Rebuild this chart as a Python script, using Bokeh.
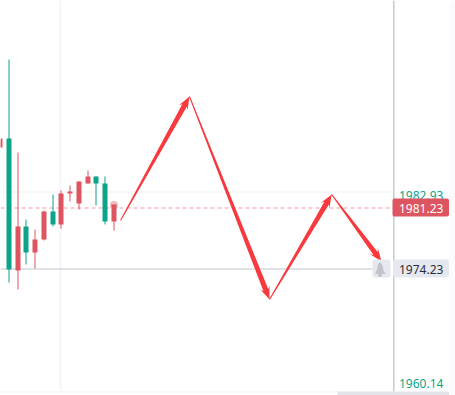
from bokeh.plotting import figure
from bokeh.embed import file_html
from bokeh.resources import INLINE
from bokeh.models import BoxAnnotation, Label
import numpy as np

# candles, in bar index / price
bar_index = [-1, 0, 1, 2, 3, 4, 5, 6, 7, 8, 9, 10, 11, 12]
high = [1988.9, 1998.23, 1987.55, 1979.86, 1978.71, 1980.89, 1982.73, 1983.19, 1983.76, 1984.22, 1985.48, 1984.79, 1984.79, 1981.58]
low = [1988.12, 1972.54, 1971.74, 1974.61, 1974.15, 1977.44, 1979.05, 1978.82, 1981.92, 1981.0, 1983.99, 1981.46, 1979.28, 1978.59]
body_top = [1989.16, 1989.16, 1979.05, 1979.05, 1977.56, 1980.77, 1980.77, 1982.84, 1983.07, 1984.22, 1984.79, 1984.79, 1983.99, 1981.58]
body_bottom = [1988.12, 1974.03, 1974.0, 1975.99, 1975.99, 1977.56, 1979.28, 1979.28, 1982.84, 1981.69, 1983.99, 1983.99, 1979.63, 1979.63]
is_up = [1, 0, 1, 0, 1, 1, 0, 1, 1, 1, 1, 0, 0, 1]

# zigzag drawing
zig_index = [12.77, 20.65, 29.8, 36.9, 42.6]
zig_price = [1979.8, 1994.04, 1970.73, 1982.79, 1975.09]

# price levels
grid_prices = [1983.05, 1960.14]
tick_labels = ["1982.93", "1960.14"]
last_price = 1981.23
last_label = "1981.23"
alert_price = 1974.23
alert_label = "1974.23"

UP, DOWN = "#dc5560", "#0ba488"
W, H = 455, 395
x0, x1 = -0.949, 51.05
y0, y1 = 1959.707, 2005.057
sx = W / (x1 - x0)
sy = H / (y1 - y0)
FONT = "Noto Sans"

p = figure(width=W, height=H, x_range=(x0, x1), y_range=(y0, y1), output_backend="svg",
           toolbar_location=None, min_border=0, outline_line_color=None, background_fill_color="white",
           border_fill_color="white")
p.axis.visible = False
p.grid.visible = False


def X(px):
    return x0 + px / sx


def Y(py):
    return y1 - py / sy


def snap_y(price, off=0.0):
    return Y(np.floor((y1 - price) * sy) + off)


def snap_x(i, off=0.5):
    return X(np.floor((i - x0) * sx) + off)


# grid
p.line([X(60), X(60)], [Y(390), y1], line_color="#f6f6f6", line_width=2)
for gp in grid_prices:
    p.line([x0, X(393)], [snap_y(gp, 0.5)] * 2, line_color="#f1f1f3", line_width=1)

# level lines
p.line([x0, X(393)], [last_price] * 2, line_color="#f7bcc2", line_width=1.4, line_dash="4 3")
p.line([x0, X(372)], [alert_price] * 2, line_color="#c4c3d2", line_width=1.2)

# candles
colors = [UP if u else DOWN for u in is_up]
wx = [snap_x(i) for i in bar_index]
p.segment(wx, [snap_y(v + 0.05) for v in high], wx, [snap_y(v + 0.05) for v in low], line_color=colors, line_width=1)
p.vbar(x=wx, top=[snap_y(v + 0.05) for v in body_top], bottom=[snap_y(v + 0.05) for v in body_bottom],
       width=5 / sx, fill_color=colors, line_color=None)
p.scatter([wx[-1]], [body_top[-1]], size=8, fill_color=UP, fill_alpha=0.4, line_color=None)


# tapered arrows
def arrow(a, b):
    pa = np.array([(a[0] - x0) * sx, (y1 - a[1]) * sy])
    pb = np.array([(b[0] - x0) * sx, (y1 - b[1]) * sy])
    d = pb - pa
    d = d / np.hypot(*d)
    n = np.array([-d[1], d[0]])
    neck = pb - d * 10
    barb = pb - d * 13
    pts = [pa + n * 0.5, neck + n * 2.6, barb + n * 5, pb, barb - n * 5, neck - n * 2.6, pa - n * 0.5]
    return [x0 + q[0] / sx for q in pts], [y1 - q[1] / sy for q in pts]


xs, ys = [], []
for i in range(len(zig_index) - 1):
    ax, ay = arrow((zig_index[i], zig_price[i]), (zig_index[i + 1], zig_price[i + 1]))
    xs.append(ax)
    ys.append(ay)
p.patches(xs, ys, fill_color="#f83a3f", line_color=None)

# right scale
p.line([X(393.3), X(393.3)], [Y(391), y1], line_color="#c9c8d6", line_width=1.5)
p.add_layout(BoxAnnotation(left=X(448.5), right=x1, bottom=y0, top=y1, fill_color="#fbfbfd", fill_alpha=1, line_color=None))
p.add_layout(BoxAnnotation(left=X(337), right=X(448.5), bottom=y0, top=Y(391), fill_color="#e1e5ea", fill_alpha=1, line_color=None))


def txt(s, px, py, color):
    p.add_layout(Label(x=X(px), y=Y(py), text=s, text_color=color, text_font=FONT, text_font_size="12px",
                       text_align="left", text_baseline="middle"))


txt(tick_labels[0], 398.5, 195, DOWN)
txt(tick_labels[1], 398.5, 382.5, DOWN)
p.add_layout(BoxAnnotation(left=X(392), right=X(448.5), top=Y(198), bottom=Y(216), fill_color=UP, fill_alpha=1,
                           line_color=None, border_radius=2))
txt(last_label, 398.5, 207.5, "white")
p.add_layout(BoxAnnotation(left=X(392.5), right=X(448.5), top=Y(259), bottom=Y(277), fill_color="#e6e8f0", fill_alpha=1,
                           line_color=None, border_radius=3))
txt(alert_label, 398.5, 268.5, "#2a2e39")
p.add_layout(BoxAnnotation(left=X(372), right=X(390), top=Y(259), bottom=Y(277), fill_color="#e6e8f0", fill_alpha=1,
                           line_color=None, border_radius=3))

# bell icon
bell_x = [X(v) for v in [375, 376.5, 377, 378, 379.5, 381, 382, 383, 383.5, 385, 385, 375]]
bell_y = [Y(v) for v in [271.5, 269.5, 265.5, 263, 262, 263, 265.5, 269.5, 271.5, 272.5, 273.5, 273.5]]
p.patch(bell_x, bell_y, fill_color="#c1c3ca", line_color=None, level="overlay")
p.scatter([X(379.5)], [Y(274.5)], size=4, fill_color="#c1c3ca", line_color=None, level="overlay")

open("out.html", "w").write(file_html(p, INLINE))
